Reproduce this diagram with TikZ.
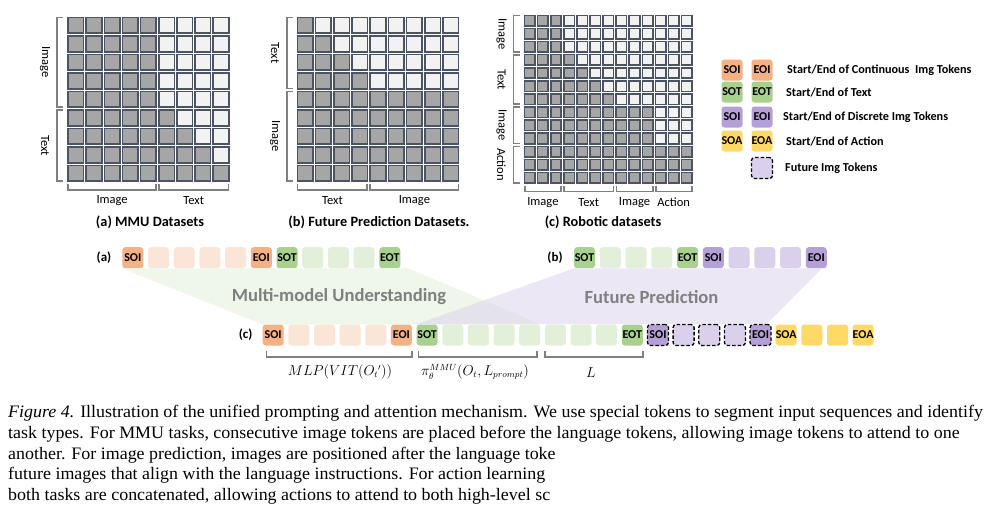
\documentclass[tikz,border=0pt]{standalone}
\usepackage{fontspec}
\setmainfont{Carlito}
\newfontfamily\capfont[FakeStretch=1.025]{Liberation Serif}
\usetikzlibrary{positioning}

\definecolor{cellline}{RGB}{74,84,100}
\definecolor{celldark}{RGB}{166,166,166}
\definecolor{celllight}{RGB}{242,242,242}
\definecolor{bracegray}{RGB}{128,128,128}
\definecolor{imgtok}{RGB}{244,177,131}
\definecolor{imgtoklight}{RGB}{251,229,214}
\definecolor{txttok}{RGB}{169,209,142}
\definecolor{txttoklight}{RGB}{226,240,217}
\definecolor{futtok}{RGB}{180,160,214}
\definecolor{futtoklight}{RGB}{218,208,236}
\definecolor{acttok}{RGB}{255,217,102}

\tikzset{
	cell/.style={draw=cellline, fill=#1, line width=1.6pt},
	bracketline/.style={draw=bracegray, line width=1.8pt},
	axislabel/.style={font=\fontsize{12.5}{13}\selectfont, inner sep=0pt},
	gridtitle/.style={font=\fontsize{14.3}{15}\selectfont\bfseries, inner sep=0pt},
	token/.style={fill=#1, rounded corners=3pt, minimum width=21pt, minimum height=21pt,
		inner sep=0pt, font=\fontsize{12}{12}\selectfont\bfseries},
	futuretoken/.style={token=#1, draw=black, line width=1.3pt, dash pattern=on 3.5pt off 2pt},
	legendtext/.style={anchor=west, inner sep=0pt, font=\fontsize{12.2}{13}\selectfont\bfseries},
	rowtag/.style={inner sep=0pt, font=\fontsize{13}{14}\selectfont\bfseries},
	bandtext/.style={inner sep=0pt, text=bracegray, font=\fontsize{18.6}{19}\selectfont\bfseries},
	mathlabel/.style={inner sep=0pt, font=\fontsize{13.5}{14}\selectfont},
	capline/.style={anchor=base west, inner sep=0pt, font=\capfont\fontsize{17.5}{18}\selectfont}
}

% x0, y0, column pitch, row pitch, columns, dark cells per row
\newcommand{\attgrid}[6]{
	\foreach \n [count=\r] in {#6} {
		\foreach \c in {1,...,#5} {
			\ifnum\c>\n\relax \def\cellfill{celllight}\else \def\cellfill{celldark}\fi
			\path[cell=\cellfill] ({#1+(\c-1)*#3+1.3},{#2+(\r-1)*#4+1.3}) rectangle ++({#3-2.6},{#4-2.6});
		}
	}
}
% x, top, bottom, label
\newcommand{\rowbrace}[4]{
	\draw[bracketline] (#1+6,#2+1.5) -- (#1,#2+1.5) -- (#1,#3-1.5) -- (#1+6,#3-1.5);
	\node[axislabel, rotate=-90] at (#1-12,{(#2+#3)/2}) {#4};
}
% left, right, y, label
\newcommand{\colbrace}[4]{
	\draw[bracketline] (#1+1.5,#3-6) -- (#1+1.5,#3) -- (#2-1.5,#3) -- (#2-1.5,#3-6);
	\node[axislabel] at ({(#1+#2)/2},#3+11) {#4};
}

\begin{document}
\begin{tikzpicture}[x=1pt, y=-1pt]
	\useasboundingbox[fill=white] (0,0) rectangle (993,515);

	% attention masks
	\attgrid{66.7}{16}{18.15}{18.5}{9}{5,5,5,5,5,6,7,8,9}
	\rowbrace{57}{16}{108.5}{Image}
	\rowbrace{57}{108.5}{182.5}{Text}
	\colbrace{66.7}{157.5}{190}{Image}
	\colbrace{157.5}{230}{190}{Text}
	\node[gridtitle] (titlea) at (150,222) {(a) MMU Datasets};

	\attgrid{296}{16}{18.2}{18.5}{9}{1,2,3,4,9,9,9,9,9}
	\rowbrace{287}{16}{90}{Text}
	\rowbrace{287}{90}{182.5}{Image}
	\colbrace{296}{368.8}{190}{Text}
	\colbrace{368.8}{460}{190}{Image}
	\node[gridtitle] (titleb) at (379,222) {(b) Future Prediction Datasets.};

	\attgrid{523.3}{14}{13.08}{13.1}{13}{3,3,3,4,5,6,7,10,10,10,13,13,13}
	\rowbrace{513.5}{14}{53.3}{Image}
	\rowbrace{513.5}{53.3}{105.7}{Text}
	\rowbrace{513.5}{105.7}{145}{Image}
	\rowbrace{513.5}{145}{184.3}{Action}
	\colbrace{523.3}{562.5}{191.5}{Image}
	\colbrace{562.5}{614.9}{191.5}{Text}
	\colbrace{614.9}{654.1}{191.5}{Image}
	\colbrace{654.1}{693.3}{191.5}{Action}
	\node[gridtitle] (titlec) at (603,222) {(c) Robotic datasets};

	% legend
	\node[token=imgtok] (legsoi) at (732,70) {SOI};
	\node[token=imgtok] (legeoi) at (762,70) {EOI};
	\node[legendtext] at (787,70) {Start/End of Continuous\ \ Img Tokens};
	\node[token=txttok] (legsot) at (732,92) {SOT};
	\node[token=txttok] (legeot) at (762,92) {EOT};
	\node[legendtext] at (786,92) {Start/End of Text};
	\node[token=futtok] (legsoid) at (732,117) {SOI};
	\node[token=futtok] (legeoid) at (762,117) {EOI};
	\node[legendtext] at (783,117) {Start/End of Discrete Img Tokens};
	\node[token=acttok] (legsoa) at (732,141) {SOA};
	\node[token=acttok] (legeoa) at (762,141) {EOA};
	\node[legendtext] at (786,141) {Start/End of Action};
	\node[futuretoken=futtoklight] (legfut) at (762,168) {};
	\node[legendtext] at (785,168) {Future Img Tokens};

	% token sequences
	\node[rowtag] (taga) at (104,258) {(a)};
	\foreach \s/\t [count=\i from 0] in {imgtok/SOI, imgtoklight/, imgtoklight/, imgtoklight/,
		imgtoklight/, imgtok/EOI, txttok/SOT, txttoklight/, txttoklight/, txttoklight/, txttok/EOT}
		\node[token=\s] (a\i) at ({132.8+\i*25.7},257.7) {\t};

	\node[rowtag] (tagb) at (555,258) {(b)};
	\foreach \s/\t [count=\i from 0] in {txttok/SOT, txttoklight/, txttoklight/, txttoklight/,
		txttok/EOT, futtok/SOI, futtoklight/, futtoklight/, futtoklight/, futtok/EOI}
		\node[token=\s] (b\i) at ({584.5+\i*25.75},257.7) {\t};

	\node[rowtag] (tagc) at (245.7,335) {(c)};
	\foreach \s/\t [count=\i from 0] in {imgtok/SOI, imgtoklight/, imgtoklight/, imgtoklight/,
		imgtoklight/, imgtok/EOI, txttok/SOT, txttoklight/, txttoklight/, txttoklight/,
		txttoklight/, txttoklight/, txttoklight/, txttoklight/, txttok/EOT}
		\node[token=\s] (c\i) at ({273.2+\i*25.65},335) {\t};
	\foreach \s/\t [count=\i from 15] in {futtok/SOI, futtoklight/, futtoklight/, futtoklight/, futtok/EOI}
		\node[futuretoken=\s] (c\i) at ({273.2+\i*25.65},335) {\t};
	\foreach \s/\t [count=\i from 20] in {acttok/SOA, acttok/, acttok/, acttok/EOA}
		\node[token=\s] (c\i) at ({273.2+\i*25.65},335) {\t};

	% bands from (a) and (b) down to (c)
	\fill[txttoklight, opacity=0.55] (a0.south west) -- ([xshift=8pt]a10.south east) -- (c10.north east) -- (c0.north west) -- cycle;
	\fill[futtoklight, opacity=0.5] (b0.south west) -- ([xshift=-5pt]b9.south east) -- ([xshift=-5pt]c19.north east) -- (c6.north west) -- cycle;
	\node[bandtext] (mmu) at (339,297) {Multi-model Understanding};
	\node[bandtext] (fp) at (651.5,297) {Future Prediction};

	% spans under (c)
	\draw[bracketline] ([xshift=4pt,yshift=-5.5pt]c0.south west) |- ([yshift=-11.5pt]c5.south east) -- ([yshift=-5.5pt]c5.south east);
	\draw[bracketline] ([xshift=2pt,yshift=-5.5pt]c6.south west) |- ([xshift=-3.5pt,yshift=-11.5pt]c10.south east) -- ([xshift=-3.5pt,yshift=-5.5pt]c10.south east);
	\draw[bracketline] ([yshift=-5.5pt]c11.south west) |- ([yshift=-11.5pt]c14.south east) -- ([yshift=-5.5pt]c14.south east);
	\node[mathlabel] (mlp) at (340,372) {$MLP(VIT(O_t{}'))$};
	\node[mathlabel] (policy) at (475,372) {$\pi_\theta^{MMU}(O_t,L_{prompt})$};
	\node[mathlabel] (lang) at (591,373) {$L$};

	% caption
	\node[capline] at (8,417) {\textit{Figure 4.} Illustration of the unified prompting and attention mechanism. We use special tokens to segment input sequences and identify};
	\node[capline] at (8,438.5) {task types. For MMU tasks, consecutive image tokens are placed before the language tokens, allowing image tokens to attend to one};
	\node[capline] at (8,459) {another. For image prediction, images are positioned after the language toke};
	\node[capline] at (8,479.5) {future images that align with the language instructions. For action learning};
	\node[capline] at (8,500) {both tasks are concatenated, allowing actions to attend to both high-level sc};
\end{tikzpicture}
\end{document}
